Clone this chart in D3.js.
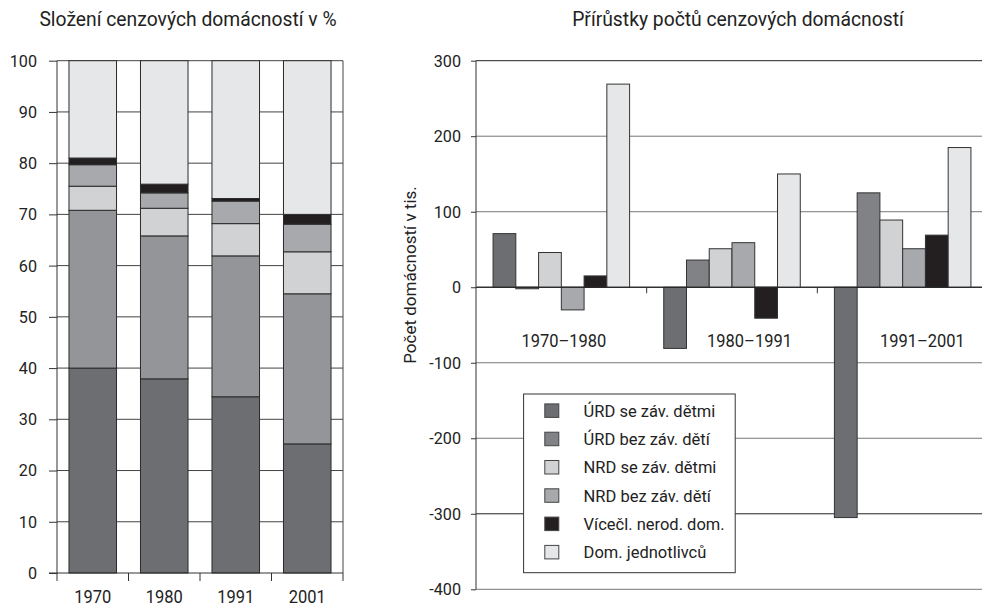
<!DOCTYPE html>
<html>
<head>
<meta charset="utf-8">
<script src="https://cdn.jsdelivr.net/npm/d3@7"></script>
<style>
  body { margin: 0; background: #fff; }
  svg { display: block; font-family: Roboto, "Liberation Sans", sans-serif; }
</style>
</head>
<body>
<script>
// Data: left chart (composition in %)
const years = ['1970', '1980', '1991', '2001'];
const seriesNames = ['ÚRD se záv. dětmi', 'ÚRD bez záv. dětí', 'NRD se záv. dětmi',
  'NRD bez záv. dětí', 'Vícečl. nerod. dom.', 'Dom. jednotlivců'];
const share1970 = [40.0, 30.8, 4.7, 4.2, 1.3, 19.0];
const share1980 = [37.9, 27.9, 5.4, 3.0, 1.7, 24.1];
const share1991 = [34.4, 27.5, 6.3, 4.4, 0.5, 26.9];
const share2001 = [25.2, 29.3, 8.2, 5.4, 1.9, 30.0];
const leftTicks = [0, 10, 20, 30, 40, 50, 60, 70, 80, 90, 100];

// Data: right chart (increments in thousands)
const periods = ['1970–1980', '1980–1991', '1991–2001'];
const delta7080 = [71, -2, 46, -30, 15, 269];
const delta8091 = [-81, 36, 51, 59, -41, 150];
const delta9101 = [-305, 125, 89, 51, 69, 185];
const rightTicks = [300, 200, 100, 0, -100, -200, -300, -400];

const leftColors = ['#6d6e71', '#939598', '#d1d2d4', '#a7a9ac', '#231f20', '#e6e7e8'];
const rightColors = ['#6d6e71', '#818285', '#d1d2d4', '#a7a9ac', '#231f20', '#e6e7e8'];

// put a text at (x, y), squeezed horizontally by sx (condensed look)
function place(sel, x, y, sx) {
  sel.attr('x', 0).attr('y', 0)
    .attr('transform', function (d, i) {
      const xx = typeof x === 'function' ? x(d, i) : x;
      const yy = typeof y === 'function' ? y(d, i) : y;
      return `translate(${xx},${yy}) scale(${sx},1)`;
    });
}

const svg = d3.select('body').append('svg')
  .attr('width', 982)
  .attr('height', 611);

// ---------- Left chart ----------
const shares = [share1970, share1980, share1991, share2001];
const leftRows = years.map((y, i) => {
  const row = { year: y };
  seriesNames.forEach((s, j) => { row[s] = shares[i][j]; });
  return row;
});
const stacked = d3.stack().keys(seriesNames)(leftRows);

const xL = d3.scaleBand().domain(years).range([57, 343])
  .paddingInner(0.335).paddingOuter(0.1675);
const yL = d3.scaleLinear().domain([0, 100]).range([573, 60.7]);

const left = svg.append('g');

// gridlines
left.append('g')
  .selectAll('line')
  .data(leftTicks.filter(t => t > 0))
  .join('line')
  .attr('x1', 57).attr('x2', 343)
  .attr('y1', d => yL(d)).attr('y2', d => yL(d))
  .attr('stroke', '#444').attr('stroke-width', 1);

left.append('line')
  .attr('x1', 343).attr('x2', 343)
  .attr('y1', yL(100)).attr('y2', yL(0))
  .attr('stroke', '#444');

// stacked bars
left.append('g')
  .selectAll('g')
  .data(stacked)
  .join('g')
  .attr('fill', (d, i) => leftColors[i])
  .selectAll('rect')
  .data(d => d)
  .join('rect')
  .attr('x', d => xL(d.data.year))
  .attr('y', d => yL(d[1]))
  .attr('width', xL.bandwidth())
  .attr('height', d => yL(d[0]) - yL(d[1]))
  .attr('stroke', '#2b2b2b').attr('stroke-width', 1);

// y axis
const yAxisL = d3.axisLeft(yL).tickValues(leftTicks).tickSize(8);
left.append('g')
  .attr('transform', 'translate(57,0)')
  .call(yAxisL)
  .call(g => g.selectAll('text').attr('font-size', 17).attr('fill', '#222')
    .attr('font-family', 'Roboto, sans-serif')
    .attr('transform', 'scale(0.95,1)').attr('x', -20 / 0.95))
  .call(g => g.selectAll('line, path').attr('stroke', '#333'))
  .call(g => g.select('.domain').attr('d', `M0,${yL(100)}V${yL(0)}`));

// x axis with ticks at band boundaries
const xAxisG = left.append('g').attr('transform', `translate(0,${yL(0)})`);
xAxisG.append('line').attr('x1', 49).attr('x2', 343).attr('stroke', '#333');
const bounds = d3.range(years.length + 1).map(i => 57 + i * xL.step());
xAxisG.selectAll('.tk').data(bounds).join('line')
  .attr('class', 'tk')
  .attr('x1', d => d).attr('x2', d => d)
  .attr('y1', 0).attr('y2', 8)
  .attr('stroke', '#333');
xAxisG.selectAll('text').data(years).join('text')
  .call(place, d => xL(d) + xL.bandwidth() / 2, 30, 0.9)
  .attr('text-anchor', 'middle')
  .attr('font-size', 18.3)
  .attr('fill', '#222')
  .text(d => d);

left.append('text')
  .call(place, 188, 26, 0.92)
  .attr('text-anchor', 'middle')
  .attr('font-size', 21)
  .attr('fill', '#222')
  .text('Složení cenzových domácností v %');

// ---------- Right chart ----------
const deltas = [delta7080, delta8091, delta9101];
const x0 = d3.scaleBand().domain(periods).range([476, 988]);
const x1 = d3.scaleBand().domain(seriesNames).range([0, x0.bandwidth()])
  .paddingInner(0).paddingOuter(0.75);
const yR = d3.scaleLinear().domain([-400, 300]).range([589.3, 60.7]);

const right = svg.append('g');

right.append('g')
  .selectAll('line')
  .data(rightTicks)
  .join('line')
  .attr('x1', 476).attr('x2', 982)
  .attr('y1', d => yR(d)).attr('y2', d => yR(d))
  .attr('stroke', d => (d === 0 || d === 300 || d === -300) ? '#222' : '#777')
  .attr('stroke-width', 1);

right.append('g')
  .selectAll('g')
  .data(periods)
  .join('g')
  .attr('transform', d => `translate(${x0(d)},0)`)
  .selectAll('rect')
  .data((p, i) => seriesNames.map((s, j) => ({ s, j, v: deltas[i][j] })))
  .join('rect')
  .attr('x', d => x1(d.s))
  .attr('y', d => yR(Math.max(0, d.v)))
  .attr('width', x1.bandwidth())
  .attr('height', d => Math.abs(yR(d.v) - yR(0)))
  .attr('fill', d => rightColors[d.j])
  .attr('stroke', '#333').attr('stroke-width', 1);

// zero line on top with boundary ticks
right.append('line')
  .attr('x1', 476).attr('x2', 982)
  .attr('y1', yR(0)).attr('y2', yR(0))
  .attr('stroke', '#222');
right.selectAll('.ptk').data(periods.slice(1)).join('line')
  .attr('class', 'ptk')
  .attr('x1', d => x0(d)).attr('x2', d => x0(d))
  .attr('y1', yR(0)).attr('y2', yR(0) + 6)
  .attr('stroke', '#333');

const yAxisR = d3.axisLeft(yR).tickValues(rightTicks).tickSize(5)
  .tickFormat(d => d < 0 ? '-' + Math.abs(d) : d);
right.append('g')
  .attr('transform', 'translate(476,0)')
  .call(yAxisR)
  .call(g => g.selectAll('text').attr('font-size', 17).attr('fill', '#222')
    .attr('font-family', 'Roboto, sans-serif')
    .attr('transform', 'scale(0.95,1)').attr('x', -15 / 0.95))
  .call(g => g.selectAll('line, path').attr('stroke', '#333'))
  .call(g => g.select('.domain').attr('d', `M0,${yR(300)}V${yR(-400)}`));

// period labels
const labelShift = [2.6, 17.5, 19.8];
right.selectAll('.plab').data(periods).join('text')
  .attr('class', 'plab')
  .call(place, (d, i) => x0(d) + x0.bandwidth() / 2 + labelShift[i], 347.3, 0.89)
  .attr('text-anchor', 'middle')
  .attr('font-size', 18.5)
  .attr('fill', '#222')
  .text(d => d);

// y label
right.append('text')
  .attr('transform', 'translate(416,275) rotate(-90)')
  .attr('text-anchor', 'middle')
  .attr('font-size', 17)
  .attr('fill', '#222')
  .text('Počet domácností v tis.');

right.append('text')
  .call(place, 738, 26, 0.92)
  .attr('text-anchor', 'middle')
  .attr('font-size', 21)
  .attr('fill', '#222')
  .text('Přírůstky počtů cenzových domácností');

// legend
const legend = right.append('g').attr('transform', 'translate(523.6,394)');
legend.append('rect')
  .attr('width', 211.6).attr('height', 178.7)
  .attr('fill', '#fff').attr('stroke', '#333');
const items = legend.selectAll('.li').data(seriesNames).join('g')
  .attr('class', 'li')
  .attr('transform', (d, i) => `translate(0,${16.7 + i * 28.3})`);
items.append('rect')
  .attr('x', 21.2).attr('y', -6.8)
  .attr('width', 14).attr('height', 13.5)
  .attr('fill', (d, i) => rightColors[i])
  .attr('stroke', '#444');
items.append('text')
  .attr('x', 60).attr('y', 6)
  .attr('font-size', 16.5)
  .attr('fill', '#222')
  .text(d => d);
</script>
</body>
</html>
